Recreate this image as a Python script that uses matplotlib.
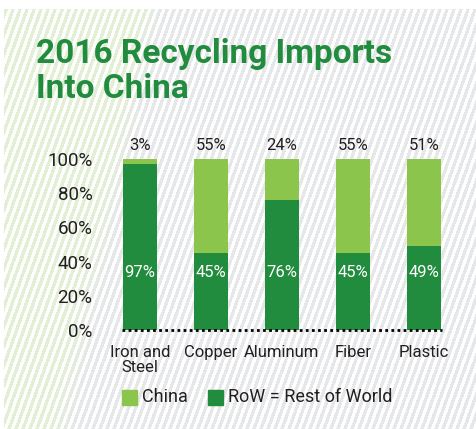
import numpy as np
import matplotlib
matplotlib.use("Agg")
import matplotlib.pyplot as plt
from matplotlib.patches import Rectangle

# data
categories = ["Iron and\nSteel", "Copper", "Aluminum", "Fiber", "Plastic"]
china = [3, 55, 24, 55, 51]
row = [97, 45, 76, 45, 49]
yticks = [0, 20, 40, 60, 80, 100]

light_green = "#8cc54b"
dark_green = "#218b3e"
text_col = "#231f20"

plt.rcParams['font.family'] = ['Roboto', 'DejaVu Sans']

W, H = 476, 429
fig = plt.figure(figsize=(W / 100, H / 100), dpi=100)

# striped background
yy, xx = np.mgrid[0:H, 0:W].astype(float)
phase = np.mod(xx + 0.36 * yy, 7.0)
stripe = (phase < 3.6).astype(float)
gray = np.array([0.902, 0.906, 0.914])
green = np.array([0.890, 0.941, 0.835])
bound = 150 - (90 / 420) * (yy - 9)
t = np.clip((xx - bound) / 25 + 0.5, 0, 1)[..., None]
col = green * (1 - t) + gray * t
img = np.ones((H, W, 3))
img = img * (1 - stripe[..., None]) + col * stripe[..., None]
img[:9, :, :] = 1
img[:, :4, :] = 1
bg = fig.add_axes([0, 0, 1, 1])
bg.imshow(img, aspect="auto", interpolation="nearest")
bg.axis("off")

# title
fig.text(36 / W, 1 - 63 / H, "2016 Recycling Imports", fontsize=24,
         fontweight="bold", color=dark_green, ha="left", va="baseline")
fig.text(36 / W, 1 - 98 / H, "Into China", fontsize=24,
         fontweight="bold", color=dark_green, ha="left", va="baseline")

ax = fig.add_axes([105 / W, (H - 330) / H, 355 / W, 171 / H])
ax.patch.set_alpha(0)
x = np.arange(len(categories))
ax.bar(x, row, width=0.48, color=dark_green, zorder=2)
ax.bar(x, china, width=0.48, bottom=row, color=light_green, zorder=2)

for i in range(len(categories)):
    ax.text(x[i], 108, f"{china[i]}%", ha="center", va="center",
            fontsize=12, color=text_col, clip_on=False)
    ax.text(x[i], 33.5, f"{row[i]}%", ha="center", va="center",
            fontsize=12, color="white", zorder=3)

ax.plot([-0.25, 4.25], [0, 0], color="black", lw=2,
        linestyle=(0, (1, 1.2)), zorder=3, clip_on=False)

ax.set_xlim(-0.49, 4.51)
ax.set_ylim(0, 100)
ax.set_yticks(yticks)
ax.set_yticklabels([f"{v}%" for v in yticks], fontsize=13.5, color=text_col)
ax.set_xticks(x)
ax.set_xticklabels(categories, fontsize=12, color=text_col, linespacing=1.0)
ax.tick_params(length=0, axis="y", pad=9)
ax.tick_params(length=0, axis="x", pad=11)
for s in ax.spines.values():
    s.set_visible(False)

# legend
fig.patches.append(Rectangle((122 / W, 1 - 405 / H), 15 / W, 15 / H,
                             transform=fig.transFigure, color=light_green))
fig.text(142 / W, 1 - 397 / H, "China", fontsize=13, color=text_col,
         va="center", ha="left")
fig.patches.append(Rectangle((208 / W, 1 - 405 / H), 15 / W, 15 / H,
                             transform=fig.transFigure, color=dark_green))
fig.text(228 / W, 1 - 397 / H, "RoW = Rest of World", fontsize=13,
         color=text_col, va="center", ha="left")

fig.savefig("out.png", dpi=100)
